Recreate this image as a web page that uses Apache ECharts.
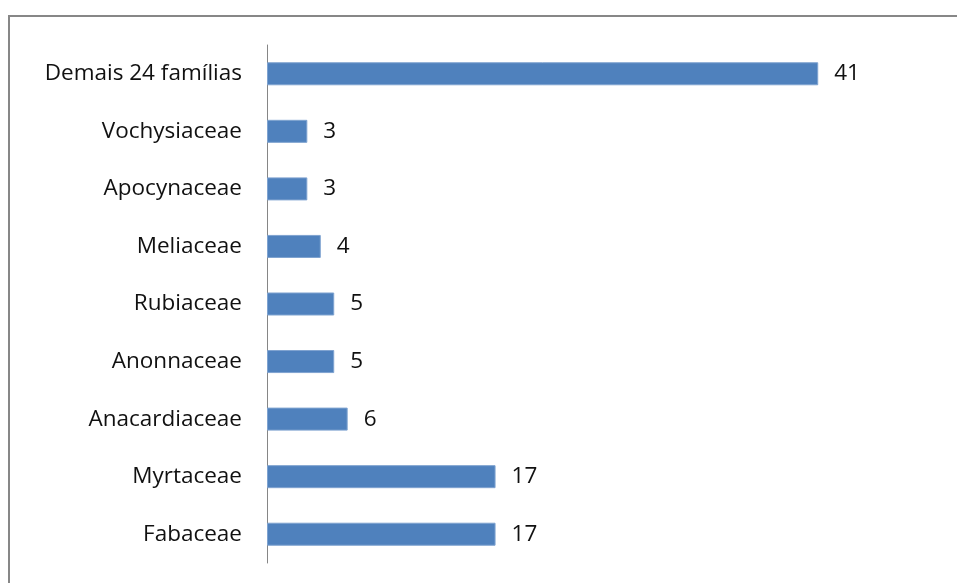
<!DOCTYPE html>
<html><head><meta charset="utf-8">
<script src="https://cdn.jsdelivr.net/npm/echarts@6/dist/echarts.min.js"></script>
<style>html,body{margin:0;padding:0;background:#fff}#c{width:957px;height:583px}</style>
</head><body><div id="c"></div>
<script>
const categories = ["Fabaceae","Myrtaceae","Anacardiaceae","Anonnaceae","Rubiaceae","Meliaceae","Apocynaceae","Vochysiaceae","Demais 24 famílias"];
const values = [17,17,6,5,5,4,3,3,41];
const chart = echarts.init(document.getElementById('c'));
const FONT = 'Open Sans';
chart.setOption({
  animation:false,
  graphic:[{type:'rect',shape:{x:9,y:16,width:960,height:580},style:{fill:'none',stroke:'#878787',lineWidth:2},silent:true}],
  grid:{left:267,top:45,width:605,height:518,containLabel:false},
  xAxis:{type:'value',min:0,max:45,show:false},
  yAxis:{type:'category',data:categories,
    axisLine:{show:true,lineStyle:{color:'#868686',width:1}},
    axisTick:{show:false},
    axisLabel:{color:'#111',fontFamily:FONT,fontSize:22.5,margin:25}},
  series:[{type:'bar',data:values,barCategoryGap:'60%',
    itemStyle:{color:'#4F81BD',borderColor:'#7FA3D0',borderWidth:1},
    label:{show:true,position:'right',distance:16,color:'#111',fontFamily:FONT,fontSize:22.5}}]
});
</script></body></html>
